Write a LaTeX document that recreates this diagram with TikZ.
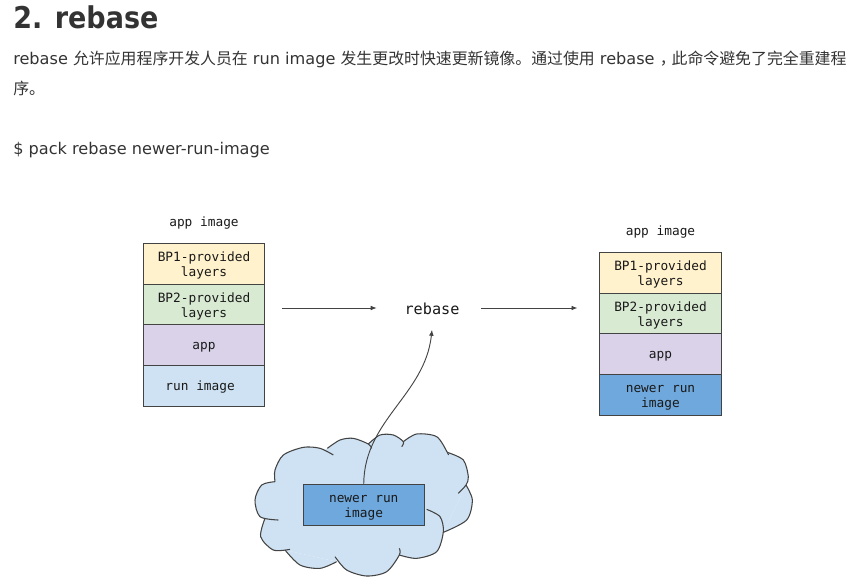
\documentclass[tikz,border=0pt]{standalone}
\usepackage{fontspec}
\setmainfont{DejaVu Sans}
\setmonofont{DejaVu Sans Mono}
\newfontfamily\cjkfont[Scale=0.985]{Noto Sans CJK SC}
\newfontfamily\headfont[FakeStretch=0.9]{DejaVu Sans Bold}
\usetikzlibrary{positioning, arrows.meta}
\definecolor{bodytext}{HTML}{333333}
\definecolor{edgegray}{HTML}{434343}
\definecolor{layeryellow}{HTML}{FFF2CC}
\definecolor{layergreen}{HTML}{D9EAD3}
\definecolor{layerpurple}{HTML}{D9D2E9}
\definecolor{layerblue}{HTML}{CFE2F3}
\definecolor{layerdeep}{HTML}{6FA8DC}
\newcommand{\layerlift}{\rule{0pt}{9.5pt}}
\tikzset{
  layerbox/.style={draw=edgegray, line width=0.75pt, minimum width=91pt, minimum height=30.6pt,
    inner sep=0pt, align=center, anchor=north, text=black!90,
    font=\ttfamily\fontsize{9.6}{11.6}\selectfont},
  caption/.style={inner sep=0pt, text=black!90, font=\ttfamily\fontsize{9.6}{11.6}\selectfont},
  bodyline/.style={inner sep=0pt, anchor=base west, text=bodytext, font=\fontsize{12.1}{15}\selectfont},
  flowline/.style={draw=edgegray, line width=0.7pt, -{Latex[length=4.5pt,width=3.5pt]}},
  cloudline/.style={draw=edgegray, line width=0.8pt}
}
% one stroke per lobe of the cloud, coordinates as read at three times the pixel size
\newcommand{\cloudlobes}[1]{
  \path[#1] plot[smooth] coordinates {(115,300) (60,290) (45,240) (65,195) (105,185)};
  \path[#1] plot[smooth] coordinates {(105,185) (105,150) (130,105) (190,82) (240,85) (280,105)};
  \path[#1] plot[smooth] coordinates {(262,85) (300,60) (340,55) (385,72) (395,85)};
  \path[#1] plot[smooth] coordinates {(385,72) (420,45) (460,45) (490,65) (485,80)};
  \path[#1] plot[smooth] coordinates {(490,65) (530,42) (590,50) (622,97) (625,105)};
  \path[#1] plot[smooth] coordinates {(622,97) (670,120) (685,170) (678,195) (655,220)};
  \path[#1] plot[smooth] coordinates {(678,195) (697,240) (680,300) (610,337)};
  \path[#1] plot[smooth] coordinates {(560,268) (600,290) (610,335) (590,395) (530,415) (478,405)};
  \path[#1] plot[smooth] coordinates {(478,385) (478,405) (440,455) (380,468) (320,450) (285,410)};
  \path[#1] plot[smooth] coordinates {(290,425) (240,445) (180,435) (135,390)};
  \path[#1] plot[smooth] coordinates {(150,388) (100,390) (62,350) (75,295)};
}
\begin{document}
\begin{tikzpicture}[x=0.75pt,y=-0.75pt]
  \useasboundingbox (0,0) rectangle (859,582);
  % page text
  \node[bodyline, font=\headfont\fontsize{22.5}{26}\selectfont] (heading) at (13,28) {2. rebase};
  \node[bodyline] (introa) at (13,64) {rebase {\cjkfont 允许应用程序开发人员在} run image {\cjkfont 发生更改时快速更新镜像。通过使用} rebase {\cjkfont ，\kern-3pt 此命令避免了完全重建程}};
  \node[bodyline] (introb) at (13,94) {\cjkfont 序。};
  \node[bodyline] (command) at (13,154) {\$ pack rebase newer-run-image};
  % left stack
  \foreach \name/\ytop/\col/\txt in {
    leftbpa/243/layeryellow/BP1-provided\\layers,
    leftbpb/284/layergreen/BP2-provided\\layers,
    leftapp/324/layerpurple/app,
    leftrun/365/layerblue/run image
  }{
    \node[layerbox, fill=\col] (\name) at (204,\ytop) {\layerlift\txt};
  }
  % right stack
  \foreach \name/\ytop/\col/\txt in {
    rightbpa/252/layeryellow/BP1-provided\\layers,
    rightbpb/293/layergreen/BP2-provided\\layers,
    rightapp/333/layerpurple/app,
    rightrun/374/layerdeep/newer run\\image
  }{
    \node[layerbox, fill=\col] (\name) at (660.5,\ytop) {\layerlift\txt};
  }
  \node[caption] (leftcap) at (204,223) {app image};
  \node[caption] (rightcap) at (660.5,232) {app image};
  % cloud
  \begin{scope}[shift={(240,420)},scale=1/3]
    \fill[layerblue] (105,185) -- (262,85) -- (385,72) -- (490,65) -- (622,97) -- (678,195)
      -- (610,337) -- (478,405) -- (285,410) -- (290,425) -- (135,390) -- (75,295) -- cycle;
    \cloudlobes{fill=layerblue}
    \cloudlobes{cloudline}
  \end{scope}
  \node[layerbox, fill=layerdeep] (newer) at (363.75,484) {\layerlift newer run\\image};
  \node[inner sep=0pt, minimum width=78pt, minimum height=31.5pt, text=black!90,
    font=\ttfamily\fontsize{11.4}{13}\selectfont] (rebase) at (432,308.5) {rebase};
  \coordinate (leftout) at (282,308);
  \coordinate (rightin) at (577.5,308);
  \draw[flowline] (leftout) -- ([xshift=-2.25pt]rebase.west |- leftout);
  \draw[flowline] ([xshift=-2.25pt]rebase.east |- rightin) -- (rightin);
  \draw[flowline] (newer.north) .. controls (364,420) and (425,395) .. (rebase.south);
\end{tikzpicture}
\end{document}
